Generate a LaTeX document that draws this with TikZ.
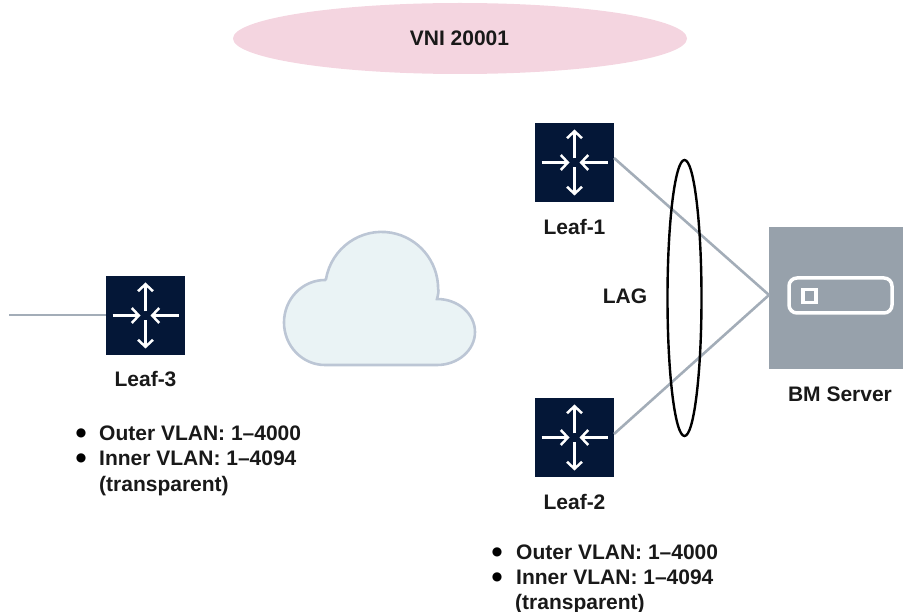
\documentclass[tikz,border=0pt]{standalone}
\usepackage{fontspec}
\setmainfont{Liberation Sans}
\newfontfamily\bulletfont{DejaVu Sans}
\usetikzlibrary{arrows.meta,shapes.geometric}
\definecolor{navy}{HTML}{041737}
\definecolor{linkgray}{HTML}{A3ADB8}
\definecolor{servergray}{HTML}{97A1AB}
\definecolor{pinkfill}{HTML}{F4D5E0}
\definecolor{cloudfill}{HTML}{EAF3F5}
\definecolor{cloudline}{HTML}{BCC6D5}
\tikzset{
  leafbox/.style={draw=none,fill=navy,minimum width=79pt,minimum height=79pt,inner sep=0pt},
  txt/.style={font=\fontsize{21}{25}\selectfont\bfseries,inner sep=0pt,text=black!90},
  listtxt/.style={txt,anchor=base west},
  bulletmark/.style={font=\bulletfont\fontsize{12}{14}\selectfont,inner sep=0pt,text=black},
  link/.style={draw=linkgray,line width=2.6pt},
  swarrow/.style={draw=white,line width=2.5pt,-{Straight Barb[length=7pt,width=15pt,line width=2.5pt]}}
}
\newcommand{\leafarrows}[1]{%
  \draw[swarrow] ([yshift=4pt]#1.center) -- ([yshift=33pt]#1.center);
  \draw[swarrow] ([yshift=-5pt]#1.center) -- ([yshift=-33pt]#1.center);
  \draw[swarrow] ([xshift=-33pt]#1.center) -- ([xshift=-5pt]#1.center);
  \draw[swarrow] ([xshift=33pt]#1.center) -- ([xshift=5pt]#1.center);
}
\begin{document}
\begin{tikzpicture}[x=1pt,y=-1pt]
\useasboundingbox (0,0) rectangle (903,612);
% VNI ellipse
\node[ellipse,fill=pinkfill,minimum width=454pt,minimum height=71pt,inner sep=0pt] (vni) at (460,38.5) {};
\node[txt] (vnilabel) at (459.5,38.5) {VNI 20001};
% cloud
\path[fill=cloudfill,draw=cloudline,line width=2.6pt]
  (326,279)
  arc[start angle=190,end angle=360,x radius=56.5,y radius=57]
  .. controls (439,291) and (438,295) .. (437,299)
  arc[start angle=-90,end angle=90,x radius=38,y radius=33]
  -- (325,365)
  arc[start angle=90,end angle=270,x radius=41,y radius=42.5]
  -- cycle;
% server
\node[fill=servergray,minimum width=134pt,minimum height=142pt,inner sep=0pt,anchor=north west] (bm) at (769,227) {};
\coordinate (bmport) at (769,295);
\node[draw=white,line width=3.5pt,rounded corners=8pt,minimum width=103pt,minimum height=35pt,inner sep=0pt] (slot) at (840.5,295.5) {};
\node[draw=white,line width=3.5pt,minimum width=13pt,minimum height=13pt,inner sep=0pt] (led) at (809.5,296) {};
\node[txt] (bmlabel) at (840,394) {BM Server};
% leaves
\node[leafbox] (leaf1) at (574.5,162.5) {};
\node[leafbox] (leaf2) at (574.5,437.5) {};
\node[leafbox] (leaf3) at (145.5,315.5) {};
\leafarrows{leaf1}
\leafarrows{leaf2}
\leafarrows{leaf3}
\coordinate (l1out) at (614,158);
\coordinate (l2out) at (614,434);
\coordinate (stub) at (9,315);
\draw[link] (l1out) -- (bmport);
\draw[link] (l2out) -- (bmport);
\draw[link] (stub) -- (leaf3.west |- stub);
% LAG
\node[ellipse,draw=black,line width=2.4pt,minimum width=34pt,minimum height=276pt,inner sep=0pt] (lag) at (684.5,298) {};
\node[txt] (laglabel) at (625,296) {LAG};
% labels
\node[txt] (l1label) at (574.5,227) {Leaf-1};
\node[txt] (l2label) at (574.5,502) {Leaf-2};
\node[txt] (l3label) at (145.5,379) {Leaf-3};
% lists
\node[bulletmark] (a1) at (81,433) {●};
\node[listtxt] (a2) at (99,440) {Outer VLAN: 1–4000};
\node[bulletmark] (a3) at (81,458) {●};
\node[listtxt] (a4) at (99,465) {Inner VLAN: 1–4094};
\node[listtxt] (a5) at (99,491) {(transparent)};
\node[bulletmark] (b1) at (497,552) {●};
\node[listtxt] (b2) at (516,559) {Outer VLAN: 1–4000};
\node[bulletmark] (b3) at (497,577) {●};
\node[listtxt] (b4) at (516,584) {Inner VLAN: 1–4094};
\node[listtxt] (b5) at (515,609) {(transparent)};
\end{tikzpicture}
\end{document}
